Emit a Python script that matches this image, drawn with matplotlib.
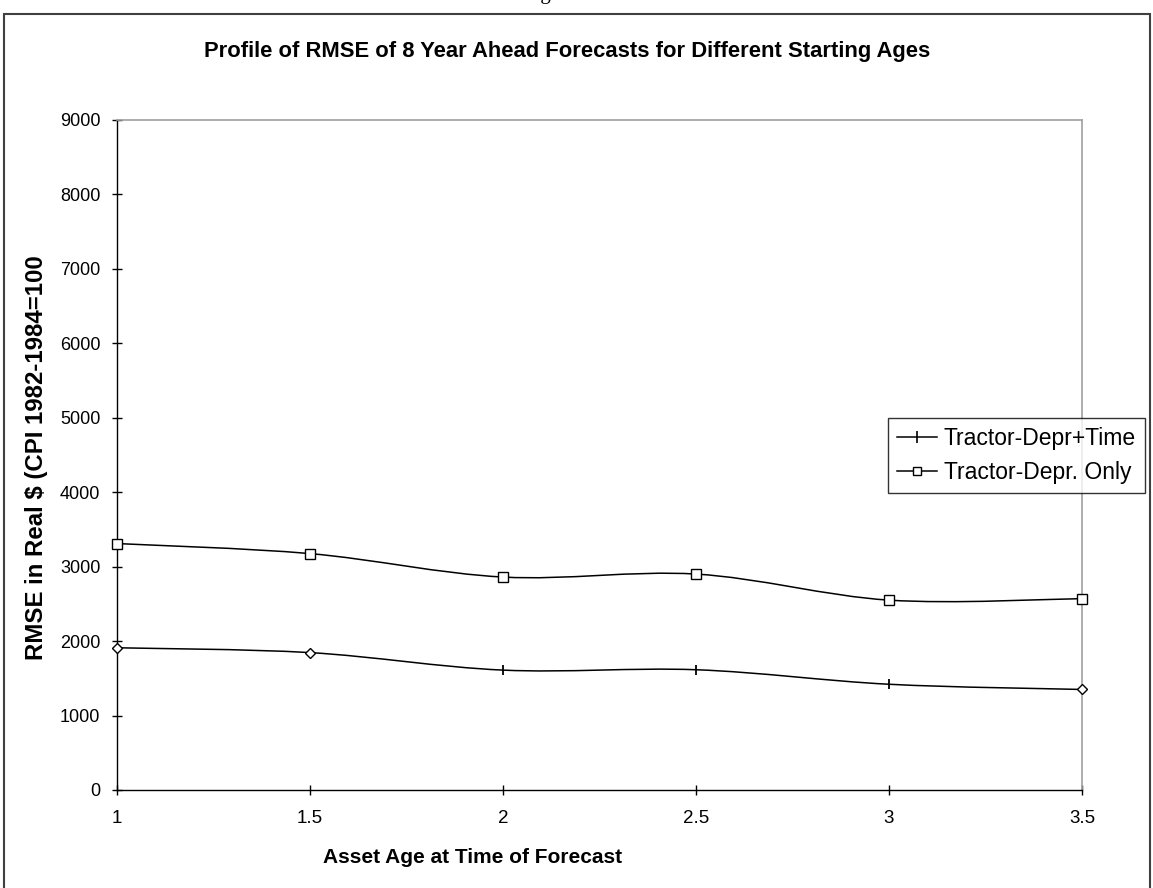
import matplotlib
matplotlib.use("Agg")
import matplotlib.pyplot as plt
from matplotlib.path import Path
from matplotlib.patches import PathPatch, Rectangle
from matplotlib.lines import Line2D

plt.rcParams['font.family'] = ['Liberation Sans', 'DejaVu Sans']

ages = [1.0, 1.5, 2.0, 2.5, 3.0, 3.5]
depr_time = [1910, 1845, 1610, 1615, 1420, 1350]
depr_only = [3310, 3175, 2860, 2900, 2550, 2570]
x_ticks = [1, 1.5, 2, 2.5, 3, 3.5]
y_ticks = list(range(0, 9001, 1000))


def smooth_path(xs, ys):
    n = len(xs)
    verts = [(xs[0], ys[0])]
    codes = [Path.MOVETO]
    for i in range(n - 1):
        x0, y0 = (xs[i - 1], ys[i - 1]) if i > 0 else (xs[i], ys[i])
        x1, y1 = xs[i], ys[i]
        x2, y2 = xs[i + 1], ys[i + 1]
        x3, y3 = (xs[i + 2], ys[i + 2]) if i + 2 < n else (x2, y2)
        c1 = (x1 + (x2 - x0) / 6.0, y1 + (y2 - y0) / 6.0)
        c2 = (x2 - (x3 - x1) / 6.0, y2 - (y3 - y1) / 6.0)
        verts += [c1, c2, (x2, y2)]
        codes += [Path.CURVE4] * 3
    return Path(verts, codes)


fig = plt.figure(figsize=(11.53, 8.88), dpi=100)
ax = fig.add_axes([0.1015, 0.1104, 0.8369, 0.7545])

for ys in (depr_time, depr_only):
    ax.add_patch(PathPatch(smooth_path(ages, ys), facecolor='none',
                           edgecolor='black', lw=1.1, zorder=2))

# markers
ax.plot(ages, depr_only, ls='none', marker='s', ms=6.5, mfc='white',
        mec='black', mew=1.0, zorder=3, clip_on=False)
ax.plot([ages[i] for i in (0, 1, 5)], [depr_time[i] for i in (0, 1, 5)],
        ls='none', marker='D', ms=5, mfc='white', mec='black', mew=1.0,
        zorder=3, clip_on=False)
ax.plot([ages[i] for i in (2, 3, 4)], [depr_time[i] for i in (2, 3, 4)],
        ls='none', marker='|', ms=7.5, mec='black', mew=1.3, zorder=3,
        clip_on=False)

ax.set_xlim(1, 3.5)
ax.set_ylim(0, 9000)
ax.set_xticks(x_ticks)
ax.set_xticklabels(['1', '1.5', '2', '2.5', '3', '3.5'])
ax.set_yticks(y_ticks)
ax.tick_params(axis='both', colors='black', length=7, width=1.0,
               direction='inout')
ax.tick_params(axis='x', labelsize=13.5, pad=11)
ax.tick_params(axis='y', labelsize=13, pad=8.5)
for s in ('left', 'bottom'):
    ax.spines[s].set_color('black')
    ax.spines[s].set_linewidth(1.0)
for s in ('right', 'top'):
    ax.spines[s].set_color('#a0a0a0')
    ax.spines[s].set_linewidth(1.2)

fig.text(473 / 1153, 1 - 857 / 888, 'Asset Age at Time of Forecast',
         ha='center', va='center', fontsize=15, fontweight='bold')
fig.text(37 / 1153, 1 - 458 / 888, 'RMSE in Real $ (CPI 1982-1984=100',
         ha='center', va='center', rotation=90, fontsize=17.3,
         fontweight='bold')

fig.text(567 / 1153, 1 - 52 / 888,
         'Profile of RMSE of 8 Year Ahead Forecasts for Different Starting Ages',
         ha='center', va='center', fontsize=15.8, fontweight='bold')

fig.text(0.478, 1.0015, 'Figure', ha='center', va='baseline',
         fontsize=15, family=['Liberation Serif', 'DejaVu Serif'])

handles = [
    Line2D([], [], color='black', lw=1.1, marker='|', ms=8, mew=1.2),
    Line2D([], [], color='black', lw=1.1, marker='s', ms=6, mfc='white',
           mec='black', mew=1.0),
]
leg = fig.legend(handles, ['Tractor-Depr+Time', 'Tractor-Depr. Only'],
                 loc='upper left', bbox_to_anchor=(888 / 1153, 1 - 418 / 888),
                 fontsize=16.5, frameon=True, fancybox=False,
                 edgecolor='black', handlelength=1.75, handletextpad=0.3,
                 borderpad=0.38, borderaxespad=0, labelspacing=0.5)
leg.get_frame().set_linewidth(1.0)

fig.patches.append(Rectangle((0.0035, -0.01), 0.9940, 0.9942,
                             transform=fig.transFigure, fill=False,
                             edgecolor='#404040', lw=1.5))

fig.savefig('out.png', dpi=100)
